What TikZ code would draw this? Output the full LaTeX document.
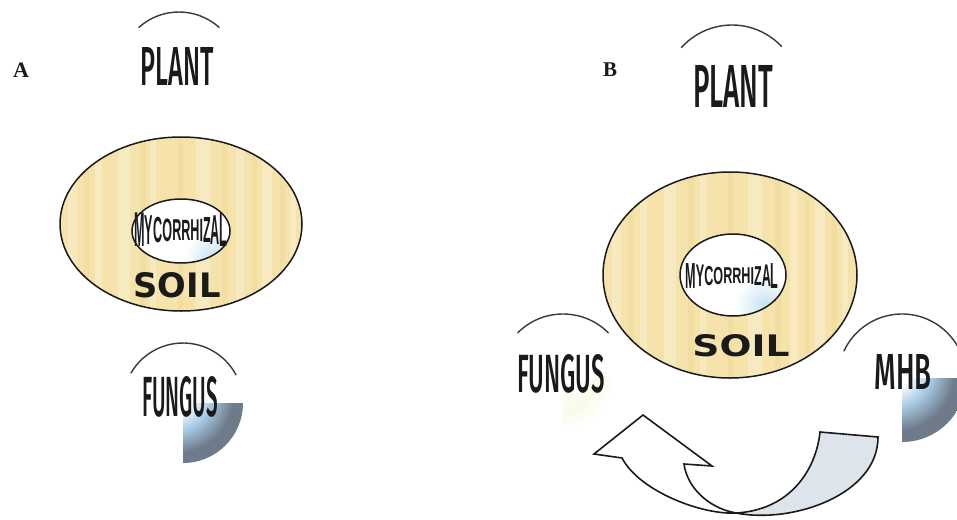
\documentclass[tikz,border=0pt]{standalone}
\usepackage{fontspec}
\usepackage{graphicx}
\setmainfont{Liberation Serif}
\newfontfamily\waf{Fira Sans Medium}
\newfontfamily\wbf{Liberation Sans}
\newfontfamily\soilf{DejaVu Sans}
\definecolor{soilyellow}{HTML}{F5E3AB}
\definecolor{soillight}{HTML}{F7E9C0}
\definecolor{soildark}{HTML}{F3DEA2}
\definecolor{inkline}{HTML}{1A1A1A}
\definecolor{arcgray}{HTML}{3A3A3A}
\definecolor{orbblue}{HTML}{A8C9E4}
\definecolor{orbgray}{HTML}{6E7B8A}
\definecolor{ribbon}{HTML}{DDE4EC}
\definecolor{paleblue}{HTML}{C6E2F3}
\definecolor{faintyellow}{HTML}{FAFAEA}
\pgfdeclareradialshading{orbshade}{\pgfpoint{-6bp}{6bp}}{color(0bp)=(white); color(9bp)=(white); color(16bp)=(orbblue); color(24bp)=(orbgray); color(50bp)=(orbgray)}
\pgfdeclareradialshading{orbyellow}{\pgfpoint{-6bp}{6bp}}{color(0bp)=(white); color(10bp)=(white); color(18bp)=(faintyellow); color(24bp)=(white); color(50bp)=(white)}
\newcommand\wart[3]{\resizebox{#1pt}{#2pt}{\waf #3}}
\newcommand\soilword[2]{\resizebox{#1pt}{#2pt}{\soilf\bfseries SOIL}}
\newcommand\dl[2]{\raisebox{-0.5\height}{\scalebox{1.26}[#1]{#2}}}
\tikzset{
  soilring/.style={draw=inkline, line width=1.5pt},
  innerring/.style={draw=inkline, line width=1.5pt},
  orbarc/.style={draw=arcgray, line width=1.4pt, line cap=round},
  ribbonline/.style={draw=inkline, line width=1.6pt, line join=miter},
  word/.style={inner sep=0pt, text=inkline},
}
\begin{document}
\begin{tikzpicture}[x=1pt, y=-1pt]
\useasboundingbox (0,0) rectangle (957,519);
\clip (0,0) rectangle (957,519);
\fill[white] (0,0) rectangle (957,519);

% ---------------- Panel A ----------------
% plant orb
\draw[orbarc] (179,72) ++(-132:60) arc[start angle=-132, end angle=-48, radius=60];
% fungus orb
\begin{scope}
  \clip (183,403) rectangle (260,480);
  \shade[shading=orbshade] (183,403) circle[radius=60];
\end{scope}
\draw[orbarc] (183,403) ++(-150:60) arc[start angle=-150, end angle=-28, radius=60];
% soil ellipse
\coordinate (ellA) at (181,224);
\coordinate (inA) at (181,231);
\begin{scope}
  \clip (ellA) ellipse[x radius=121, y radius=87];
  \fill[soilyellow] (ellA) ellipse[x radius=121, y radius=87];
  \foreach \a/\w in {68/9, 95/7, 118/12, 150/6, 196/14, 236/8, 262/10, 290/6}
    \fill[soillight] (\a,130) rectangle ++(\w,190);
  \foreach \a/\w in {84/5, 140/6, 178/5, 222/6, 252/5, 280/5}
    \fill[soildark] (\a,130) rectangle ++(\w,190);
\end{scope}
\path[soilring] (ellA) ellipse[x radius=121, y radius=87];
\fill[white] (inA) ellipse[x radius=49, y radius=32];
\begin{scope}
  \clip (inA) ellipse[x radius=49, y radius=32];
  \shade[inner color=paleblue, outer color=white] (213,258) circle[radius=28];
\end{scope}
\path[innerring] (inA) ellipse[x radius=49, y radius=32];

\node[word] (lblA) at (21,70) {\fontsize{22}{22}\selectfont\bfseries A};
\node[word] (plantA) at (177,66) {\wart{73}{38}{PLANT}};
\node[word] (mycoA) at (181,230) {\wbf\bfseries\fontsize{10}{10}\selectfont\dl{4.89}{M}\dl{4.19}{Y}\dl{3.63}{C}\dl{3.24}{O}\dl{3.02}{R}\dl{2.93}{R}\dl{3.02}{H}\dl{3.24}{I}\dl{3.63}{Z}\dl{4.19}{A}\dl{4.89}{L}};
\node[word] (soilA) at (177,285) {\soilword{87}{25}};
\node[word] (fungusA) at (180,397) {\wart{76}{40}{FUNGUS}};

% ---------------- Panel B ----------------
% fungus orb (faint)
\begin{scope}
  \clip (563,378) rectangle (640,460);
  \shade[shading=orbyellow] (563,378) circle[radius=64];
\end{scope}
\draw[orbarc] (563,378) ++(-135:64) arc[start angle=-135, end angle=-45, radius=64];
% MHB orb
\begin{scope}
  \clip (902,378) rectangle (970,460);
  \shade[shading=orbshade] (902,378) circle[radius=64];
\end{scope}
\draw[orbarc] (902,378) ++(-155:64) arc[start angle=-155, end angle=-15, radius=64];
% plant orb
\draw[orbarc] (732,93) ++(-138:68) arc[start angle=-138, end angle=-43, radius=68];
% soil ellipse
\coordinate (ellB) at (730,275);
\coordinate (inB) at (733,275);
\begin{scope}
  \clip (ellB) ellipse[x radius=127, y radius=103];
  \fill[soilyellow] (ellB) ellipse[x radius=127, y radius=103];
  \foreach \a/\w in {612/9, 640/7, 664/12, 700/6, 748/14, 790/8, 815/10, 842/6}
    \fill[soillight] (\a,165) rectangle ++(\w,220);
  \foreach \a/\w in {628/5, 688/6, 728/5, 775/6, 805/5, 832/5}
    \fill[soildark] (\a,165) rectangle ++(\w,220);
\end{scope}
\path[soilring] (ellB) ellipse[x radius=127, y radius=103];
\fill[white] (inB) ellipse[x radius=53, y radius=41];
\begin{scope}
  \clip (inB) ellipse[x radius=53, y radius=41];
  \shade[inner color=paleblue, outer color=white] (765,305) circle[radius=30];
\end{scope}
\path[innerring] (inB) ellipse[x radius=53, y radius=41];

\node[word] (lblB) at (610,70) {\fontsize{21}{21}\selectfont\bfseries B};
\node[word] (plantB) at (733,86) {\wart{80}{42}{PLANT}};
\node[word] (mycoB) at (732,276) {\wbf\bfseries\fontsize{10}{10}\selectfont\dl{3.63}{M}\dl{3.13}{Y}\dl{2.74}{C}\dl{2.46}{O}\dl{2.29}{R}\dl{2.23}{R}\dl{2.29}{H}\dl{2.46}{I}\dl{2.74}{Z}\dl{3.13}{A}\dl{3.63}{L}};
\node[word] (soilB) at (741,346) {\soilword{97}{22}};
\node[word] (fungusB) at (561,374) {\wart{88}{38}{FUNGUS}};
\node[word] (mhb) at (903,372) {\wart{57}{35}{MHB}};

% ribbon arrow
\coordinate (tipT) at (643,415);
\coordinate (barbR) at (712,466);
\coordinate (notchR) at (684,464);
\coordinate (pinch) at (736,513);
\coordinate (notchL) at (622,458);
\coordinate (barbL) at (594,454);
\coordinate (tailL) at (820,432);
\coordinate (tailR) at (878,437);
\path[ribbonline, fill=ribbon] (tailL) -- (tailR)
  .. controls (878,495) and (792,524) .. (pinch)
  .. controls (790,510) and (816,470) .. (tailL) -- cycle;
\path[ribbonline, fill=white] (tipT) -- (barbR) -- (notchR)
  .. controls (687,487) and (708,508) .. (pinch)
  .. controls (703,515) and (640,492) .. (notchL) -- (barbL) -- cycle;
\end{tikzpicture}
\end{document}
